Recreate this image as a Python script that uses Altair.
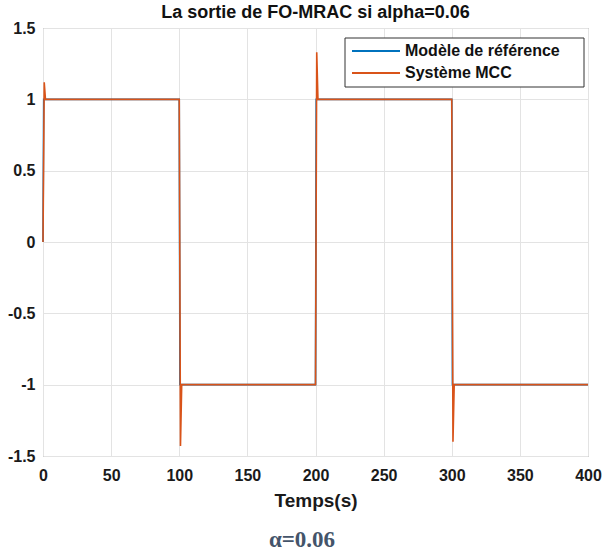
import altair as alt
import pandas as pd

# Reference model output (square-wave set point)
ref_t = [0, 0.5, 100, 100.5, 200, 200.5, 300, 300.5, 400]
ref_y = [0, 1.0, 1.0, -1.0, -1.0, 1.0, 1.0, -1.0, -1.0]

# DC motor (MCC) response under FO-MRAC, with transients at each switch
sys_t = [0, 0.9, 1.8, 100, 100.9, 101.8, 200, 200.9, 201.8, 300, 300.9, 301.8, 400]
sys_y = [0, 1.12, 1.0, 1.0, -1.43, -1.0, -1.0, 1.33, 1.0, 1.0, -1.40, -1.0, -1.0]

series_names = ["Modèle de référence", "Système MCC"]
series_colors = ["#0072BD", "#D95319"]

x_ticks = [0, 50, 100, 150, 200, 250, 300, 350, 400]
y_ticks = [-1.5, -1, -0.5, 0, 0.5, 1, 1.5]

title_text = "La sortie de FO-MRAC si alpha=0.06"
x_title = "Temps(s)"
caption_text = "α=0.06"

W, H = 545, 428

df = pd.concat(
    [
        pd.DataFrame({"t": ref_t, "y": ref_y, "serie": series_names[0], "k": list(range(len(ref_t)))}),
        pd.DataFrame({"t": sys_t, "y": sys_y, "serie": series_names[1], "k": list(range(len(sys_t)))}),
    ],
    ignore_index=True,
)

color_scale = alt.Scale(domain=series_names, range=series_colors)

lines = (
    alt.Chart(df)
    .mark_line(strokeWidth=1.6)
    .encode(
        x=alt.X(
            "t:Q",
            scale=alt.Scale(domain=[0, 400], nice=False),
            axis=alt.Axis(
                values=x_ticks,
                title=x_title,
                titleFontSize=19,
                titleFontWeight="bold",
                titleColor="#1a1a1a",
                titleBaseline="middle",
                titleY=44,
                labelPadding=11,
                labelExpr="toString(datum.value)",
            ),
        ),
        y=alt.Y(
            "y:Q",
            scale=alt.Scale(domain=[-1.5, 1.5], nice=False),
            axis=alt.Axis(
                values=y_ticks,
                title=None,
                labelPadding=8,
                labelExpr="toString(datum.value)",
            ),
        ),
        order="k:Q",
        color=alt.Color("serie:N", scale=color_scale, legend=None),
    )
)

# Boxed legend in the upper right corner of the axes
legend_df = pd.DataFrame({"serie": series_names, "row": [0, 1]})
legend_box = (
    alt.Chart(pd.DataFrame({"b": [0]}))
    .mark_rect(fill="white", stroke="#333333", strokeWidth=1)
    .encode(x=alt.value(302), x2=alt.value(541), y=alt.value(10), y2=alt.value(59))
)
legend_line_0 = (
    alt.Chart(legend_df.iloc[[0]])
    .mark_rule(strokeWidth=2)
    .encode(
        x=alt.value(309), x2=alt.value(357), y=alt.value(23),
        color=alt.Color("serie:N", scale=color_scale, legend=None),
    )
)
legend_line_1 = (
    alt.Chart(legend_df.iloc[[1]])
    .mark_rule(strokeWidth=2)
    .encode(
        x=alt.value(309), x2=alt.value(357), y=alt.value(45),
        color=alt.Color("serie:N", scale=color_scale, legend=None),
    )
)
legend_text_0 = (
    alt.Chart(legend_df.iloc[[0]])
    .mark_text(align="left", baseline="middle", fontSize=16, fontWeight="bold", color="#111111")
    .encode(text="serie:N", x=alt.value(362), y=alt.value(23))
)
legend_text_1 = (
    alt.Chart(legend_df.iloc[[1]])
    .mark_text(align="left", baseline="middle", fontSize=16, fontWeight="bold", color="#111111")
    .encode(text="serie:N", x=alt.value(362), y=alt.value(45))
)

caption = (
    alt.Chart(pd.DataFrame({"c": [caption_text]}))
    .mark_text(
        font="Liberation Serif",
        fontSize=23,
        fontWeight="bold",
        color="#44546A",
        baseline="middle",
        align="center",
    )
    .encode(text="c:N", x=alt.value(259), y=alt.value(512))
)

chart = (
    alt.layer(
        lines, legend_box, legend_line_0, legend_line_1, legend_text_0, legend_text_1, caption
    )
    .resolve_scale(color="shared")
    .properties(
        width=W,
        height=H,
        title=alt.TitleParams(
            title_text,
            fontSize=18,
            fontWeight="bold",
            color="#111111",
            anchor="middle",
            offset=-2,
        ),
        autosize=alt.AutoSizeParams(type="none"),
        padding={"left": 43, "top": 28, "right": 18, "bottom": 101},
    )
    .configure(font="Liberation Sans")
    .configure_view(stroke="#8a8a8a", strokeWidth=1)
    .configure_axis(
        grid=True,
        gridColor="#e3e3e3",
        gridWidth=1,
        domain=False,
        ticks=False,
        tickSize=0,
        labelFlush=False,
        labelFontSize=16,
        labelFontWeight="bold",
        labelColor="#1a1a1a",
    )
)

chart.save("out.html", embed_options={"renderer": "svg", "actions": False})
